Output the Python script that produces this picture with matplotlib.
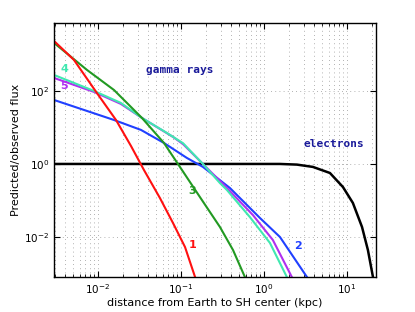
import numpy as np
import matplotlib
matplotlib.use("Agg")
import matplotlib.pyplot as plt
from matplotlib.ticker import LogLocator, NullFormatter, FixedLocator

# curve 1 (red)
x1 = [0.00295, 0.00514, 0.0097, 0.0165, 0.025, 0.0358, 0.0558, 0.0802, 0.112, 0.148]
y1 = [2340, 706, 88, 16.0, 3.11, 0.686, 0.117, 0.0242, 0.0053, 0.0008]
# curve 2 (blue)
x2 = [0.00295, 0.00737, 0.0156, 0.033, 0.0624, 0.118, 0.184, 0.389, 0.895, 1.56, 3.3]
y2 = [56.6, 28.3, 16.0, 8.55, 3.76, 1.46, 0.83, 0.22, 0.0332, 0.01, 0.0008]
# curve 3 (green)
x3 = [0.00295, 0.00737, 0.0156, 0.0339, 0.0624, 0.0973, 0.169, 0.295, 0.424, 0.59]
y3 = [2070, 376, 106, 18.2, 3.76, 0.828, 0.125, 0.0188, 0.0044, 0.0008]
# curve 4 (cyan)
x4 = [0.00295, 0.00895, 0.0189, 0.0339, 0.0678, 0.106, 0.184, 0.295, 0.358, 0.678, 1.18, 1.89]
y4 = [274, 100, 46.9, 18.2, 7.06, 3.7, 1.0, 0.30, 0.194, 0.035, 0.0069, 0.0008]
# curve 5 (magenta)
x5 = [0.00295, 0.00895, 0.0189, 0.0339, 0.0802, 0.106, 0.184, 0.358, 0.736, 1.28, 2.17]
y5 = [227, 94, 44, 18.2, 5.5, 3.5, 1.0, 0.22, 0.040, 0.0083, 0.0008]
# electrons (black)
xe = [0.00295, 0.1, 1.56, 2.5, 3.89, 6.24, 8.95, 11.8, 15.2, 17.9, 20.6]
ye = [1.0, 1.0, 1.0, 0.96, 0.83, 0.566, 0.234, 0.0855, 0.0188, 0.0044, 0.0008]

fig = plt.figure(figsize=(4.15, 3.12), dpi=100)
ax = fig.add_axes([0.130, 0.112, 0.776, 0.814])

ax.plot(xe, ye, color="black", lw=1.8)
ax.plot(x2, y2, color="#2040ff", lw=1.5)
ax.plot(x5, y5, color="#b030f0", lw=1.5)
ax.plot(x4, y4, color="#40e8b0", lw=1.5)
ax.plot(x3, y3, color="#229922", lw=1.5)
ax.plot(x1, y1, color="#ff1010", lw=1.5)

ax.set_xscale("log")
ax.set_yscale("log")
ax.set_xlim(0.00295, 22.4)
ax.set_ylim(8.0e-4, 7200)

ax.xaxis.set_major_locator(LogLocator(base=10, numticks=10))
ax.xaxis.set_minor_locator(LogLocator(base=10, subs=np.arange(2, 10), numticks=20))
ax.xaxis.set_minor_formatter(NullFormatter())
ax.yaxis.set_major_locator(FixedLocator([1e-2, 1, 1e2]))
ax.yaxis.set_minor_locator(FixedLocator([]))

ax.grid(True, which="major", axis="both", color="#999999", ls=(0, (1, 4)), lw=0.6)
ax.grid(True, which="minor", axis="x", color="#999999", ls=(0, (1, 4)), lw=0.6)

ax.tick_params(which="both", direction="in", top=True, right=True, labelsize=7.5)
ax.tick_params(which="major", length=4)
ax.tick_params(which="minor", length=2)
for s in ax.spines.values():
    s.set_linewidth(1.0)

ax.set_xlabel("distance from Earth to SH center (kpc)", fontsize=8, labelpad=2)
ax.set_ylabel("Predicted/observed flux", fontsize=8, labelpad=2)

tf = dict(family="DejaVu Sans Mono", fontweight="bold", color="#1a1a9a", fontsize=8,
          ha="center", va="center", transform=fig.transFigure)
fig.text(180/415, 1-70/312, "gamma rays", **tf)
fig.text(334/415, 1-144/312, "electrons", **tf)

nf = dict(fontweight="bold", fontsize=8, ha="center", va="center", transform=fig.transFigure)
fig.text(193/415, 1-245/312, "1", color="#ff1010", **nf)
fig.text(298/415, 1-246/312, "2", color="#2040ff", **nf)
fig.text(192/415, 1-191/312, "3", color="#229922", **nf)
fig.text(64/415, 1-69/312, "4", color="#40e8b0", **nf)
fig.text(64/415, 1-86/312, "5", color="#b030f0", **nf)

fig.savefig("out.png", dpi=100)
